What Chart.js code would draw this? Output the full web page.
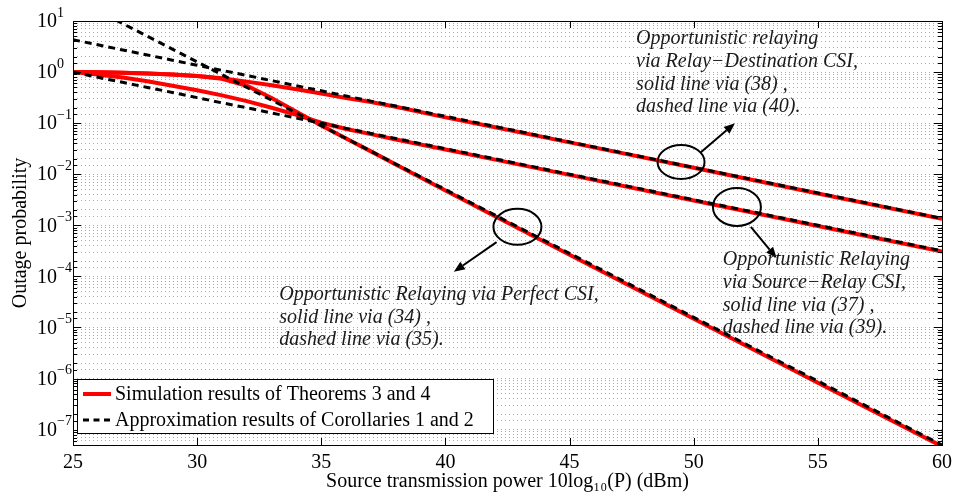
<!DOCTYPE html>
<html lang="en">
<head>
<meta charset="UTF-8">
<title>Outage probability vs source transmission power</title>
<script src="https://cdn.jsdelivr.net/npm/chart.js"></script>
<style>
    html, body { margin: 0; padding: 0; background: #ffffff; }
    #wrap { width: 958px; height: 495px; }
</style>
</head>
<body>
<div id="wrap"><canvas id="outageChart" width="958" height="495"></canvas></div>
<script>
// x values (dBm) shared by every curve
const powerDbm = [25, 26, 27, 28, 29, 30, 31, 32, 33, 34, 35, 36, 37, 38, 40, 42, 45, 50, 55, 60];

// Opportunistic relaying via Relay-Destination CSI
const rdSim    = [1.0, 0.99, 0.97, 0.94, 0.9, 0.84, 0.76, 0.65, 0.55, 0.46, 0.38, 0.31, 0.26, 0.21, 0.13, 0.083, 0.042, 0.0134, 0.0042, 0.00134];
const rdApprox = [4.3, 3.42, 2.71, 2.16, 1.71, 1.36, 1.08, 0.86, 0.68, 0.54, 0.43, 0.34, 0.27, 0.216, 0.136, 0.086, 0.043, 0.0136, 0.0043, 0.00136];

// Opportunistic relaying via Source-Relay CSI
const srSim    = [1.0, 0.9, 0.78, 0.66, 0.54, 0.44, 0.35, 0.27, 0.2, 0.145, 0.102, 0.077, 0.061, 0.048, 0.0305, 0.0193, 0.0097, 0.00306, 0.00097, 0.000306];
const srApprox = [1.0, 0.79, 0.63, 0.5, 0.4, 0.316, 0.25, 0.2, 0.158, 0.126, 0.1, 0.079, 0.063, 0.05, 0.0316, 0.02, 0.01, 0.00316, 0.001, 0.000316];

// Opportunistic relaying via perfect CSI
const pcSim    = [1.0, 0.99, 0.97, 0.94, 0.9, 0.84, 0.74, 0.54, 0.31, 0.167, 0.09, 0.05, 0.028, 0.0155, 0.0048, 0.0015, 0.000265, 1.48e-5, 8.3e-7, 4.7e-8];
const pcApprox = [28.2, 15.8, 8.91, 5.01, 2.82, 1.58, 0.891, 0.501, 0.282, 0.158, 0.0891, 0.0501, 0.0282, 0.0158, 0.00501, 0.00158, 0.000282, 1.58e-5, 8.91e-7, 5.01e-8];

const xTicks = [25, 30, 35, 40, 45, 50, 55, 60];
const yDecades = [1, 0, -1, -2, -3, -4, -5, -6, -7];
const legendLabels = ['Simulation results of Theorems 3 and 4', 'Approximation results of Corollaries 1 and 2'];

// annotations: x in dBm, e = log10(probability)
const notes = [
    { x: 47.68, e: 0.65, lines: ['Opportunistic relaying', 'via Relay\u2212Destination CSI,', 'solid line via (38) ,', 'dashed line via (40).'] },
    { x: 51.17, e: -3.68, lines: ['Opportunistic Relaying', 'via Source\u2212Relay CSI,', 'solid line via (37) ,', 'dashed line via (39).'] },
    { x: 33.31, e: -4.36, lines: ['Opportunistic Relaying via Perfect CSI,', 'solid line via (34) ,', 'dashed line via (35).'] }
];
const circles = [
    { x: 49.49, e: -1.76, rx: 23.5, ry: 17 },
    { x: 51.74, e: -2.64, rx: 24, ry: 19 },
    { x: 42.9, e: -3.03, rx: 24, ry: 18 }
];
const arrows = [
    { x1: 50.29, e1: -1.57, x2: 51.66, e2: -1.0 },
    { x1: 52.3, e1: -3.03, x2: 53.34, e2: -3.64 },
    { x1: 42.06, e1: -3.33, x2: 40.34, e2: -3.91 }
];

const SERIF = '"Liberation Serif", "Times New Roman", serif';

function pts(ys) {
    return powerDbm.map((x, i) => ({ x: x, y: ys[i] }));
}

function solid(ys) {
    return { data: pts(ys), borderColor: '#ff0000', borderWidth: 4, pointRadius: 0, fill: false, clip: 0 };
}

function dashed(ys) {
    return { data: pts(ys), borderColor: '#000000', borderWidth: 3, borderDash: [7, 5], pointRadius: 0, fill: false, clip: 0 };
}

const decorPlugin = {
    id: 'decor',
    afterDatasetsDraw(chart) {
        const ctx = chart.ctx;
        const ca = chart.chartArea;
        const xs = chart.scales.x;
        const ys = chart.scales.y;
        ctx.save();
        ctx.strokeStyle = '#000';
        ctx.lineWidth = 1;
        // inward ticks
        ctx.beginPath();
        xTicks.forEach(v => {
            const px = Math.round(xs.getPixelForValue(v)) + 0.5;
            ctx.moveTo(px, ca.bottom); ctx.lineTo(px, ca.bottom - 7);
            ctx.moveTo(px, ca.top); ctx.lineTo(px, ca.top + 7);
        });
        ys.ticks.forEach(t => {
            const py = Math.round(ys.getPixelForValue(t.value)) + 0.5;
            const m = Math.log10(t.value);
            const len = Math.abs(m - Math.round(m)) < 1e-6 ? 8 : 4;
            ctx.moveTo(ca.left, py); ctx.lineTo(ca.left + len, py);
            ctx.moveTo(ca.right, py); ctx.lineTo(ca.right - len, py);
        });
        ctx.stroke();
        // axes box
        ctx.strokeRect(Math.round(ca.left) + 0.5, Math.round(ca.top) + 0.5,
            Math.round(ca.right - ca.left), Math.round(ca.bottom - ca.top));
        ctx.restore();
    },
    afterDraw(chart) {
        const ctx = chart.ctx;
        const ca = chart.chartArea;
        const xs = chart.scales.x;
        const ys = chart.scales.y;
        const px = v => xs.getPixelForValue(v);
        const py = e => ys.getPixelForValue(Math.pow(10, e));
        ctx.save();

        // y tick labels 10^n
        ctx.fillStyle = '#000';
        ctx.textAlign = 'left';
        ctx.textBaseline = 'middle';
        yDecades.forEach(n => {
            const y = py(n);
            ctx.font = '20px ' + SERIF;
            ctx.fillText('10', 37, y + 1);
            const w = ctx.measureText('10').width;
            ctx.font = '14px ' + SERIF;
            ctx.fillText(n < 0 ? '\u2212' + Math.abs(n) : String(n), 37 + w, y - 8);
        });

        // ellipses
        ctx.strokeStyle = '#000';
        ctx.lineWidth = 2;
        circles.forEach(c => {
            ctx.beginPath();
            ctx.ellipse(px(c.x), py(c.e), c.rx, c.ry, 0, 0, Math.PI * 2);
            ctx.stroke();
        });

        // arrows
        arrows.forEach(a => {
            const x1 = px(a.x1), y1 = py(a.e1), x2 = px(a.x2), y2 = py(a.e2);
            const ang = Math.atan2(y2 - y1, x2 - x1);
            const hl = 11, hw = 4.5;
            const bx = x2 - hl * Math.cos(ang), by = y2 - hl * Math.sin(ang);
            ctx.beginPath();
            ctx.moveTo(x1, y1); ctx.lineTo(bx, by);
            ctx.stroke();
            ctx.beginPath();
            ctx.moveTo(x2, y2);
            ctx.lineTo(bx + hw * Math.sin(ang), by - hw * Math.cos(ang));
            ctx.lineTo(bx - hw * Math.sin(ang), by + hw * Math.cos(ang));
            ctx.closePath();
            ctx.fillStyle = '#000';
            ctx.fill();
        });

        // annotation text
        ctx.font = 'italic 20px ' + SERIF;
        ctx.fillStyle = '#1a1a1a';
        ctx.textBaseline = 'middle';
        notes.forEach(n => {
            n.lines.forEach((s, i) => ctx.fillText(s, px(n.x), py(n.e) + i * 22.7));
        });

        // legend
        const lx = ca.left + 4, ly = ca.bottom - 66, lw = 416, lh = 54;
        ctx.fillStyle = '#fff';
        ctx.fillRect(lx, ly, lw, lh);
        ctx.lineWidth = 1;
        ctx.strokeStyle = '#000';
        ctx.strokeRect(Math.round(lx) + 0.5, Math.round(ly) + 0.5, lw, lh);
        ctx.font = '20px ' + SERIF;
        ctx.fillStyle = '#000';
        legendLabels.forEach((s, i) => {
            const y = ly + 15 + i * 26;
            ctx.beginPath();
            ctx.moveTo(lx + 6, y); ctx.lineTo(lx + 34, y);
            if (i === 0) {
                ctx.strokeStyle = '#ff0000'; ctx.lineWidth = 4; ctx.setLineDash([]);
            } else {
                ctx.strokeStyle = '#000'; ctx.lineWidth = 3; ctx.setLineDash([6, 4.5]);
            }
            ctx.stroke();
            ctx.setLineDash([]);
            ctx.fillText(s, lx + 38, y + 1);
        });
        ctx.restore();
    }
};

const ctx = document.getElementById('outageChart').getContext('2d');
const chart = new Chart(ctx, {
    type: 'line',
    data: {
        datasets: [
            dashed(rdApprox), dashed(srApprox), dashed(pcApprox),
            solid(rdSim), solid(srSim), solid(pcSim)
        ]
    },
    options: {
        responsive: false,
        animation: false,
        devicePixelRatio: 1,
        layout: { padding: { left: 0, right: 13, top: 21, bottom: 0 } },
        plugins: { legend: { display: false }, tooltip: { enabled: false } },
        scales: {
            x: {
                type: 'linear',
                min: 25,
                max: 60,
                afterBuildTicks: s => { s.ticks = xTicks.map(v => ({ value: v })); },
                ticks: { color: '#000', font: { family: SERIF, size: 20 }, padding: 6, maxRotation: 0 },
                grid: { display: false, drawTicks: false },
                border: { display: false },
                title: {
                    display: true,
                    text: 'Source transmission power 10log\u2081\u2080(P) (dBm)',
                    color: '#000',
                    font: { family: SERIF, size: 20 },
                    padding: { top: 0, bottom: 1 }
                },
                afterFit: s => { s.height = 50; }
            },
            y: {
                type: 'logarithmic',
                min: 5e-8,
                max: 10,
                ticks: { display: false },
                grid: { color: '#ababab', lineWidth: 1, drawTicks: false },
                border: { display: false, dash: [1, 3] },
                title: {
                    display: true,
                    text: 'Outage probability',
                    color: '#000',
                    font: { family: SERIF, size: 20 },
                    padding: { top: 9, bottom: 0 }
                },
                afterFit: s => { s.width = 73; }
            }
        }
    },
    plugins: [decorPlugin]
});
</script>
</body>
</html>
